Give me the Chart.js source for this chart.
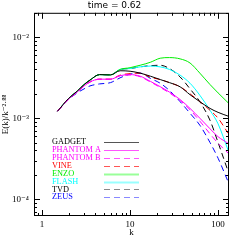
<!DOCTYPE html>
<html>
<head>
<meta charset="utf-8">
<script src="https://cdn.jsdelivr.net/npm/chart.js@4/dist/chart.umd.min.js"></script>
<style>
  html, body { margin: 0; padding: 0; background: #fff; }
  #wrap { width: 241px; height: 241px; }
</style>
</head>
<body>
<div id="wrap"><canvas id="spec"></canvas></div>
<script>
"use strict";
// wavenumbers shared by every run
var kVals = [1.5, 2, 2.5, 3, 3.5, 4.5, 6, 7.7, 10, 13, 17, 22, 28, 37, 48, 62, 81, 100, 130];

// compensated spectra E(k)/k^-2.88
var gadget   = [1.22e-3, 1.75e-3, 2.15e-3, 2.6e-3, 2.95e-3, 3.45e-3, 3.42e-3, 3.85e-3, 3.8e-3, 3.6e-3, 3.3e-3, 3.0e-3, 2.75e-3, 2.44e-3, 1.95e-3, 1.6e-3, 1.32e-3, 1.18e-3, 1.06e-3];
var phantomA = [1.22e-3, 1.72e-3, 2.1e-3, 2.5e-3, 2.8e-3, 3.03e-3, 3.03e-3, 3.35e-3, 3.45e-3, 3.3e-3, 2.85e-3, 2.45e-3, 2.1e-3, 1.7e-3, 1.32e-3, 1.0e-3, 7.4e-4, 5.9e-4, 4.9e-4];
var phantomB = [1.22e-3, 1.72e-3, 2.1e-3, 2.5e-3, 2.8e-3, 3.03e-3, 3.03e-3, 3.35e-3, 3.42e-3, 3.25e-3, 2.8e-3, 2.4e-3, 2.05e-3, 1.65e-3, 1.27e-3, 9.2e-4, 6.4e-4, 4.9e-4, 3.7e-4];
var vine     = [1.22e-3, 1.72e-3, 2.1e-3, 2.5e-3, 2.8e-3, 3.03e-3, 3.03e-3, 3.4e-3, 3.55e-3, 3.6e-3, 3.2e-3, 3.0e-3, 2.75e-3, 2.44e-3, 2.0e-3, 1.6e-3, 1.25e-3, 1.0e-3, 6.5e-4];
var enzo     = [1.22e-3, 1.75e-3, 2.15e-3, 2.6e-3, 2.95e-3, 3.45e-3, 3.42e-3, 4.0e-3, 4.2e-3, 4.5e-3, 4.9e-3, 5.5e-3, 5.6e-3, 5.4e-3, 4.8e-3, 3.6e-3, 2.6e-3, 2.05e-3, 1.55e-3];
var flash    = [1.22e-3, 1.75e-3, 2.15e-3, 2.6e-3, 2.95e-3, 3.45e-3, 3.42e-3, 4.0e-3, 4.1e-3, 4.3e-3, 4.4e-3, 4.3e-3, 4.0e-3, 3.4e-3, 2.7e-3, 1.92e-3, 1.25e-3, 8.5e-4, 4.0e-4];
var tvd      = [1.22e-3, 1.75e-3, 2.15e-3, 2.6e-3, 2.95e-3, 3.45e-3, 3.42e-3, 4.0e-3, 4.1e-3, 4.3e-3, 4.45e-3, 4.5e-3, 4.1e-3, 3.23e-3, 2.3e-3, 1.6e-3, 9.4e-4, 5.0e-4, 2.2e-4];
var zeus     = [1.22e-3, 1.7e-3, 2.05e-3, 2.3e-3, 2.5e-3, 2.65e-3, 2.75e-3, 3.15e-3, 3.5e-3, 3.6e-3, 3.1e-3, 2.7e-3, 2.2e-3, 1.6e-3, 1.15e-3, 8.2e-4, 5.0e-4, 3.2e-4, 1.64e-4];

var seriesNames = ["GADGET", "PHANTOM A", "PHANTOM B", "VINE", "ENZO", "FLASH", "TVD", "ZEUS"];
var seriesData = [gadget, phantomA, phantomB, vine, enzo, flash, tvd, zeus];
var seriesColors = ["#000000", "#ff00ff", "#ff00ff", "#ff0000", "#00ee00", "#00ffff", "#000000", "#0000ff"];
var legendColors = ["#555555", "#ff55ff", "#ff55ff", "#ff5555", "#99ff99", "#99ffff", "#888888", "#8888ff"];
var seriesDashed = [false, false, true, true, false, false, true, true];

var xTickLabels = [1, 10, 100];
var yTickLabels = { "-2": "10\u207B\u00B2", "-3": "10\u207B\u00B3", "-4": "10\u207B\u2074" };

var SERIF = "'Liberation Serif', 'DejaVu Serif', serif";

function points(ys) {
  return kVals.map(function (k, i) { return { x: k, y: ys[i] }; });
}

// ticks pointing inwards on all four sides, plus the frame
var frameTicks = {
  id: "frameTicks",
  afterDraw: function (chart) {
    var a = chart.chartArea, ctx = chart.ctx;
    var xs = chart.scales.x, ys = chart.scales.y;
    ctx.save();
    ctx.strokeStyle = "#000";
    ctx.lineWidth = 1;
    ctx.strokeRect(a.left + 0.5, a.top + 0.5, a.right - a.left - 1, a.bottom - a.top - 1);
    ctx.beginPath();
    var e, m, v, p, len;
    for (e = -1; e <= 2; e++) {
      for (m = 1; m <= 9; m++) {
        v = m * Math.pow(10, e);
        if (v < xs.min || v > xs.max) continue;
        p = Math.round(xs.getPixelForValue(v)) + 0.5;
        len = m === 1 ? 6 : 3;
        ctx.moveTo(p, a.bottom); ctx.lineTo(p, a.bottom - len);
        ctx.moveTo(p, a.top); ctx.lineTo(p, a.top + len);
      }
    }
    for (e = -5; e <= -2; e++) {
      for (m = 1; m <= 9; m++) {
        v = m * Math.pow(10, e);
        if (v < ys.min || v > ys.max) continue;
        p = Math.round(ys.getPixelForValue(v)) + 0.5;
        len = m === 1 ? 6 : 3;
        ctx.moveTo(a.left, p); ctx.lineTo(a.left + len, p);
        ctx.moveTo(a.right, p); ctx.lineTo(a.right - len, p);
      }
    }
    ctx.stroke();
    ctx.restore();
  }
};

// legend: coloured name on the left, line sample on the right
var sideLegend = {
  id: "sideLegend",
  afterDraw: function (chart) {
    var ctx = chart.ctx;
    ctx.save();
    ctx.font = "8.3px " + SERIF;
    ctx.textBaseline = "middle";
    chart.data.datasets.forEach(function (ds, i) {
      var y = 142 + i * 7.9;
      ctx.fillStyle = ds.borderColor;
      ctx.fillText(ds.label, 52, y);
      ctx.strokeStyle = legendColors[i];
      ctx.lineWidth = (i === 4 || i === 5) ? 2 : 1;
      ctx.setLineDash(ds.borderDash || []);
      ctx.beginPath();
      ctx.moveTo(104, Math.round(y) + 0.5);
      ctx.lineTo(139, Math.round(y) + 0.5);
      ctx.stroke();
    });
    ctx.restore();
  }
};

new Chart(document.getElementById("spec"), {
  type: "line",
  data: {
    datasets: seriesNames.map(function (name, i) {
      return {
        label: name,
        data: points(seriesData[i]),
        borderColor: seriesColors[i],
        borderWidth: 1,
        borderDash: seriesDashed[i] ? [6, 4] : [],
        pointRadius: 0,
        cubicInterpolationMode: "monotone",
        fill: false
      };
    })
  },
  options: {
    responsive: true,
    maintainAspectRatio: false,
    animation: false,
    layout: { padding: { top: 0, right: 12, bottom: 0, left: 0 } },
    plugins: {
      legend: { display: false },
      tooltip: { enabled: false },
      title: {
        display: true,
        text: "time = 0.62",
        color: "#000",
        font: { family: "'DejaVu Sans', sans-serif", size: 9, weight: "normal" },
        padding: { top: 0, bottom: 2 }
      }
    },
    scales: {
      x: {
        type: "logarithmic",
        min: 0.81,
        max: 133,
        grid: { display: false, drawTicks: false },
        border: { display: false },
        afterBuildTicks: function (scale) {
          scale.ticks = xTickLabels.map(function (v) { return { value: v }; });
        },
        ticks: {
          autoSkip: false,
          maxRotation: 0,
          color: "#000",
          padding: 3,
          font: { family: SERIF, size: 9 },
          callback: function (v) { return String(v); }
        },
        title: { display: true, text: "k", color: "#000", font: { family: SERIF, size: 9 }, padding: { top: 0, bottom: 3 } },
        afterFit: function (scale) { scale.height = 25; }
      },
      y: {
        type: "logarithmic",
        min: 6.2e-5,
        max: 2.0e-2,
        grid: { display: false, drawTicks: false },
        border: { display: false },
        afterBuildTicks: function (scale) {
          scale.ticks = [1e-4, 1e-3, 1e-2].map(function (v) { return { value: v }; });
        },
        ticks: {
          autoSkip: false,
          color: "#000",
          padding: 5,
          font: { family: SERIF, size: 9 },
          callback: function (v) {
            return yTickLabels[String(Math.round(Math.log10(v)))] || "";
          }
        },
        title: { display: true, text: "E(k)/k\u207B\u00B2\u00B7\u2078\u2078", color: "#000", font: { family: SERIF, size: 9 }, padding: { top: 0, bottom: 2 } },
        afterFit: function (scale) { scale.width = 34; }
      }
    }
  },
  plugins: [frameTicks, sideLegend]
});
</script>
</body>
</html>
